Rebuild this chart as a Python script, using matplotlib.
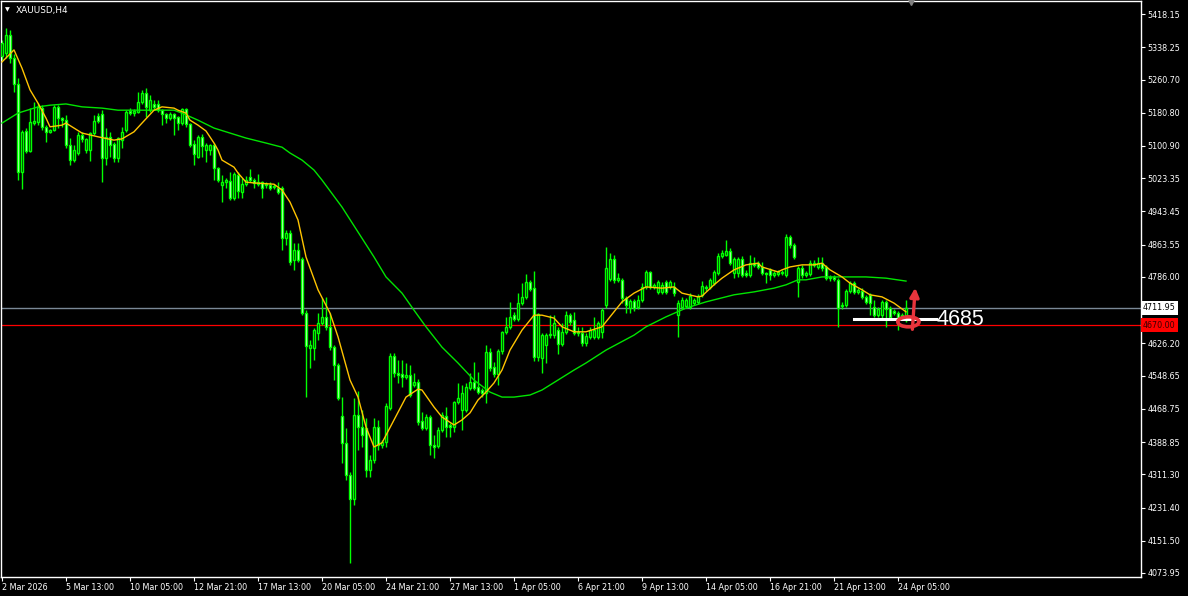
import matplotlib
matplotlib.use("Agg")
import matplotlib.pyplot as plt
from matplotlib.patches import Ellipse

# ---- XAUUSD H4 candles (bar 0 = 2 Mar 2026) --------------------------------
opens = [
    5318, 5325, 5368, 5313, 5250, 5038, 5137, 5089, 5156, 5159,
    5192, 5147, 5135, 5139, 5195, 5168, 5163, 5103, 5067, 5084,
    5127, 5091, 5091, 5132, 5173, 5178, 5072, 5123, 5106, 5072,
    5115, 5139, 5185, 5180, 5183, 5207, 5228, 5187, 5202, 5202,
    5187, 5178, 5168, 5178, 5171, 5156, 5190, 5154, 5106, 5074,
    5123, 5091, 5091, 5103, 5048, 5007, 5014, 5017, 4976, 5031,
    4990, 5009, 5026, 5019, 5009, 5014, 5007, 5007, 5002, 5000,
    5000, 4880, 4892, 4827, 4851, 4829, 4699, 4615, 4615, 4651,
    4675, 4690, 4666, 4617, 4574, 4452, 4387, 4310, 4252, 4454,
    4425, 4423, 4322, 4346, 4425, 4382, 4389, 4470, 4596, 4555,
    4553, 4545, 4550, 4526, 4533, 4439, 4423, 4449, 4382, 4380,
    4418, 4452, 4430, 4425, 4485, 4466, 4466, 4519, 4533, 4521,
    4514, 4507, 4605, 4569, 4553, 4608, 4654, 4666, 4694, 4685,
    4723, 4738, 4774, 4759, 4593, 4591, 4622, 4646, 4646, 4658,
    4625, 4654, 4694, 4682, 4651, 4651, 4627, 4642, 4642, 4642,
    4654, 4718, 4781, 4829, 4779, 4779, 4735, 4711, 4728, 4714,
    4731, 4762, 4798, 4762, 4750, 4750, 4774, 4762, 4762, 4694,
    4714, 4716, 4714, 4723, 4726, 4743, 4762, 4762, 4771, 4795,
    4836, 4839, 4848, 4795, 4795, 4829, 4795, 4791, 4819, 4819,
    4810, 4795, 4803, 4791, 4793, 4795, 4791, 4882, 4863, 4774,
    4807, 4791, 4793, 4815, 4810, 4819, 4810, 4783, 4786, 4779,
    4716, 4718, 4752, 4771, 4750, 4752, 4738, 4743, 4714, 4694,
    4694, 4726, 4711, 4704, 4699, 4690, 4682,
]
highs = [
    5356, 5385, 5380, 5322, 5264, 5139, 5144, 5192, 5207, 5204,
    5199, 5151, 5142, 5199, 5199, 5171, 5175, 5120, 5103, 5135,
    5135, 5120, 5135, 5175, 5180, 5187, 5144, 5135, 5110, 5123,
    5147, 5187, 5192, 5190, 5231, 5236, 5240, 5224, 5212, 5212,
    5190, 5180, 5183, 5180, 5173, 5192, 5192, 5156, 5115, 5127,
    5130, 5108, 5106, 5108, 5050, 5031, 5024, 5038, 5038, 5038,
    5024, 5029, 5046, 5024, 5034, 5017, 5014, 5014, 5009, 5014,
    5005, 4899, 4899, 4868, 4868, 4834, 4706, 4634, 4662, 4699,
    4735, 4738, 4699, 4622, 4578, 4497, 4423, 4318, 4495, 4512,
    4466, 4447, 4358, 4447, 4442, 4394, 4483, 4603, 4603, 4586,
    4586, 4579, 4574, 4555, 4540, 4461, 4456, 4454, 4406, 4425,
    4461, 4473, 4435, 4488, 4531, 4526, 4531, 4555, 4581, 4557,
    4519, 4622, 4615, 4581, 4612, 4656, 4690, 4726, 4702, 4747,
    4771, 4793, 4779, 4800, 4699, 4651, 4651, 4694, 4694, 4666,
    4675, 4704, 4699, 4702, 4666, 4666, 4651, 4666, 4690, 4680,
    4711, 4858, 4844, 4839, 4795, 4783, 4740, 4733, 4733, 4743,
    4771, 4803, 4800, 4771, 4779, 4774, 4779, 4779, 4774, 4731,
    4738, 4735, 4747, 4735, 4745, 4776, 4767, 4783, 4803, 4844,
    4851, 4875, 4856, 4834, 4834, 4836, 4803, 4839, 4834, 4824,
    4822, 4798, 4807, 4800, 4803, 4803, 4889, 4887, 4868, 4812,
    4815, 4800, 4827, 4827, 4834, 4834, 4815, 4791, 4791, 4783,
    4726, 4757, 4776, 4776, 4759, 4759, 4743, 4747, 4731, 4714,
    4731, 4731, 4716, 4709, 4704, 4699, 4731,
]
lows = [
    5308, 5313, 5300, 5231, 5019, 4997, 5084, 5086, 5151, 5151,
    5139, 5110, 5132, 5137, 5144, 5147, 5096, 5055, 5062, 5079,
    5110, 5084, 5065, 5127, 5156, 5014, 5055, 5074, 5062, 5062,
    5096, 5135, 5175, 5173, 5180, 5202, 5171, 5183, 5190, 5183,
    5151, 5156, 5163, 5127, 5139, 5151, 5147, 5098, 5055, 5072,
    5074, 5062, 5079, 5019, 5014, 4966, 5000, 4971, 4971, 4976,
    4976, 5005, 5014, 5000, 5005, 4976, 5000, 4995, 4997, 4985,
    4851, 4863, 4815, 4803, 4822, 4694, 4497, 4567, 4586, 4634,
    4670, 4658, 4610, 4538, 4490, 4339, 4298, 4098, 4237, 4370,
    4377, 4305, 4305, 4339, 4370, 4375, 4377, 4466, 4545, 4531,
    4521, 4540, 4497, 4521, 4430, 4418, 4418, 4358, 4351, 4375,
    4413, 4401, 4401, 4413, 4480, 4418, 4461, 4514, 4514, 4505,
    4497, 4483, 4560, 4545, 4526, 4600, 4649, 4660, 4680, 4680,
    4718, 4733, 4752, 4584, 4584, 4555, 4579, 4640, 4640, 4600,
    4620, 4649, 4670, 4646, 4644, 4620, 4620, 4637, 4637, 4637,
    4640, 4711, 4776, 4771, 4774, 4723, 4699, 4699, 4704, 4709,
    4726, 4757, 4757, 4757, 4745, 4745, 4745, 4757, 4740, 4642,
    4709, 4711, 4709, 4718, 4721, 4738, 4752, 4757, 4767, 4791,
    4831, 4836, 4815, 4783, 4786, 4786, 4786, 4786, 4810, 4805,
    4791, 4771, 4779, 4786, 4788, 4791, 4786, 4856, 4829, 4738,
    4783, 4786, 4788, 4810, 4805, 4800, 4779, 4776, 4776, 4666,
    4709, 4714, 4747, 4745, 4745, 4733, 4721, 4694, 4690, 4690,
    4687, 4666, 4685, 4694, 4658, 4682, 4678,
]
closes = [
    5349, 5368, 5313, 5250, 5038, 5135, 5089, 5159, 5161, 5195,
    5147, 5135, 5139, 5195, 5168, 5163, 5103, 5067, 5091, 5127,
    5118, 5118, 5132, 5161, 5161, 5072, 5123, 5103, 5072, 5120,
    5135, 5183, 5180, 5185, 5207, 5228, 5195, 5212, 5195, 5187,
    5178, 5168, 5178, 5168, 5156, 5190, 5154, 5103, 5082, 5123,
    5101, 5103, 5103, 5048, 5019, 5014, 5019, 4976, 5034, 4993,
    5009, 5019, 5019, 5012, 5014, 5000, 5009, 5000, 5005, 4990,
    4880, 4892, 4822, 4851, 4827, 4699, 4620, 4622, 4658, 4675,
    4690, 4666, 4617, 4574, 4495, 4387, 4310, 4252, 4454, 4425,
    4406, 4322, 4346, 4425, 4382, 4389, 4476, 4596, 4555, 4550,
    4545, 4550, 4502, 4533, 4437, 4423, 4449, 4382, 4377, 4418,
    4454, 4425, 4425, 4485, 4495, 4507, 4521, 4533, 4519, 4509,
    4507, 4605, 4567, 4553, 4608, 4654, 4666, 4690, 4685, 4723,
    4738, 4774, 4757, 4593, 4697, 4646, 4646, 4649, 4675, 4625,
    4654, 4694, 4678, 4651, 4654, 4627, 4644, 4658, 4658, 4675,
    4706, 4807, 4829, 4779, 4783, 4735, 4718, 4728, 4711, 4731,
    4762, 4798, 4762, 4767, 4774, 4767, 4750, 4774, 4747, 4723,
    4731, 4731, 4740, 4731, 4740, 4764, 4759, 4779, 4798, 4836,
    4844, 4848, 4819, 4829, 4829, 4791, 4791, 4819, 4815, 4810,
    4795, 4793, 4791, 4795, 4798, 4798, 4882, 4863, 4834, 4807,
    4791, 4795, 4819, 4819, 4819, 4807, 4783, 4786, 4781, 4711,
    4718, 4752, 4771, 4750, 4755, 4738, 4726, 4723, 4694, 4709,
    4726, 4709, 4690, 4699, 4687, 4694, 4711.95,
]

# moving averages (read at a subset of bars)
fast_idx = [0, 3, 5, 7, 9, 11, 12, 15, 16, 20, 24, 28, 30, 33, 35, 38, 40, 43,
            44, 46, 47, 49, 51, 53, 54, 55, 58, 59, 61, 63, 68, 70, 72, 74, 76,
            79, 82, 84, 87, 89, 91, 93, 95, 98, 101, 104, 105, 108, 110, 113,
            115, 117, 119, 121, 123, 125, 127, 130, 133, 135, 138, 140, 143,
            146, 150, 152, 155, 158, 161, 165, 168, 170, 174, 175, 178, 180,
            183, 186, 189, 190, 194, 195, 197, 200, 203, 205, 207, 210, 212,
            215, 217, 220, 223, 226]
fast_ma = [5303, 5332, 5288, 5236, 5204, 5168, 5147, 5151, 5156, 5132, 5123,
           5115, 5118, 5135, 5156, 5187, 5195, 5192, 5187, 5180, 5163, 5151,
           5137, 5108, 5091, 5067, 5050, 5036, 5014, 5012, 5009, 4995, 4966,
           4923, 4834, 4755, 4699, 4642, 4538, 4497, 4425, 4377, 4387, 4442,
           4497, 4516, 4514, 4473, 4449, 4430, 4442, 4459, 4490, 4509, 4531,
           4562, 4610, 4658, 4694, 4694, 4687, 4666, 4654, 4654, 4666, 4690,
           4726, 4747, 4762, 4759, 4762, 4747, 4738, 4740, 4767, 4783, 4803,
           4815, 4819, 4810, 4798, 4803, 4810, 4815, 4815, 4819, 4803, 4786,
           4771, 4755, 4743, 4738, 4723, 4702]
slow_idx = [0, 4, 9, 12, 16, 20, 25, 29, 33, 37, 43, 45, 49, 53, 57, 61, 66,
            70, 72, 75, 78, 80, 85, 89, 93, 96, 100, 103, 106, 110, 114, 118,
            122, 125, 128, 132, 135, 139, 143, 146, 151, 158, 161, 166, 171,
            176, 183, 188, 193, 196, 199, 201, 205, 210, 216, 221, 226]
slow_ma = [5156, 5180, 5195, 5199, 5202, 5195, 5192, 5187, 5187, 5187, 5187,
           5180, 5163, 5144, 5132, 5120, 5108, 5098, 5084, 5067, 5043, 5019,
           4954, 4894, 4834, 4786, 4747, 4706, 4666, 4617, 4579, 4538, 4509,
           4497, 4497, 4502, 4514, 4538, 4562, 4579, 4610, 4646, 4666, 4690,
           4711, 4726, 4743, 4750, 4759, 4767, 4779, 4779, 4786, 4786, 4786,
           4783, 4776]

date_labels = ["2 Mar 2026", "5 Mar 13:00", "10 Mar 05:00", "12 Mar 21:00",
               "17 Mar 13:00", "20 Mar 05:00", "24 Mar 21:00", "27 Mar 13:00",
               "1 Apr 05:00", "6 Apr 21:00", "9 Apr 13:00", "14 Apr 05:00",
               "16 Apr 21:00", "21 Apr 13:00", "24 Apr 05:00"]
price_ticks = [5418.15, 5338.25, 5260.70, 5180.80, 5100.90, 5023.35, 4943.45,
               4863.55, 4786.00, 4626.20, 4548.65, 4468.75, 4388.85, 4311.30,
               4231.40, 4151.50, 4073.95]
bid_price = 4711.95
red_price = 4670.00
level = 4685

LIME = "#00FF00"
RED = "#E8343C"
FS = 5.8

fig = plt.figure(figsize=(11.88, 5.96), dpi=100, facecolor="black")
ax = fig.add_axes([1 / 1188, 19 / 596, 1140 / 1188, 576 / 596], facecolor="black")

n = len(closes)
idx = list(range(n))

# candles: white body = bearish, black body = bullish
ax.vlines(idx, lows, highs, color=LIME, lw=1, zorder=2)
bottoms = [min(o, c) for o, c in zip(opens, closes)]
heights = [max(abs(c - o), 1.2) for o, c in zip(opens, closes)]
fills = ["white" if c < o else "black" for o, c in zip(opens, closes)]
ax.bar(idx, heights, bottom=bottoms, width=0.62, color=fills,
       edgecolor=LIME, linewidth=1.0, zorder=3)

ax.plot(slow_idx, slow_ma, color="#00E400", lw=1, zorder=4)
ax.plot(fast_idx, fast_ma, color="#FFC400", lw=1, zorder=4)

ax.axhline(bid_price, color="#7A8896", lw=1, zorder=1.5)
ax.axhline(red_price, color="#FF0000", lw=0.9, zorder=1.5)

# hand-drawn marks
ax.plot([213, 233.5], [level, level], color="white", lw=2.2, zorder=5)
ax.text(233.6, level - 2, str(level), color="white", fontsize=15.5,
        family="Liberation Sans", va="center", ha="left", zorder=6)
ax.add_patch(Ellipse((226.6, 4678), 5.3, 24, fill=False, ec=RED, lw=2.6, zorder=6))
ax.annotate("", xy=(228.3, 4760), xytext=(227.6, 4660),
            arrowprops=dict(arrowstyle="-|>", color=RED, lw=2.4,
                            mutation_scale=13, shrinkA=0, shrinkB=0), zorder=6)

ax.set_xlim(-0.25, 284.75)
ax.set_ylim(4064.3, 5449.6)

for s in ax.spines.values():
    s.set_color("white")
    s.set_linewidth(1)

ax.yaxis.tick_right()
ax.set_yticks(price_ticks)
ax.set_yticklabels([f"{p:.2f}" for p in price_ticks])
ax.set_xticks(range(0, 225, 16))
ax.set_xticklabels(date_labels)
for lab in ax.get_xticklabels():
    lab.set_horizontalalignment("left")
ax.tick_params(axis="both", colors="white", labelcolor="white", length=3,
               width=0.8, labelsize=FS, pad=1.5)

# price boxes on the right scale
ax.text(1.0018, bid_price, f"{bid_price:.2f}", transform=ax.get_yaxis_transform(),
        ha="left", va="center", fontsize=FS, color="black", clip_on=False,
        bbox=dict(boxstyle="square,pad=0.3", fc="white", ec="none"))
ax.text(1.0018, red_price, f"{red_price:.2f}", transform=ax.get_yaxis_transform(),
        ha="left", va="center", fontsize=FS, color="#3A0000", clip_on=False,
        bbox=dict(boxstyle="square,pad=0.3", fc="#FF0000", ec="none"))

# chart shift marker and symbol caption
ax.plot([227.3], [1.0], marker="v", color="#808080", ms=6,
        transform=ax.get_xaxis_transform(), clip_on=False, zorder=7)
fig.text(5 / 1188, 1 - 10 / 596, "\u25bc", color="white", fontsize=4.5, va="center")
fig.text(16 / 1188, 1 - 10 / 596, "XAUUSD,H4", color="white", fontsize=6.4, va="center")

fig.savefig("out.png", dpi=100, facecolor="black")
